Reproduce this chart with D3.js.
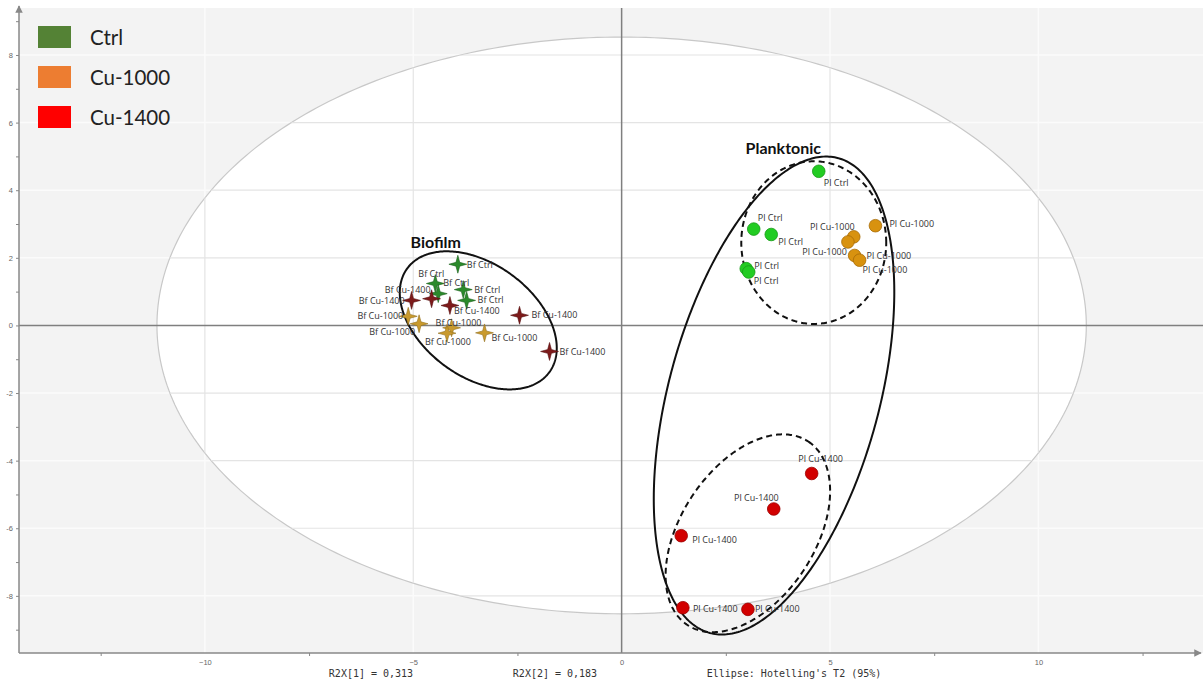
<!DOCTYPE html>
<html>
<head>
<meta charset="utf-8">
<script src="https://cdn.jsdelivr.net/npm/d3@7"></script>
<style>
  body { margin: 0; background: #fff; }
  svg { display: block; }
  .axis path, .axis line { stroke: #888; }
  .axis text { fill: #666; font-family: "Liberation Sans", sans-serif; font-size: 7.5px; }
  .plab { font-family: "Open Sans", sans-serif; font-size: 9px; fill: #333; }
</style>
</head>
<body>
<svg width="1203" height="684"></svg>
<script>
// groups and legend colours
const groups = ["Ctrl", "Cu-1000", "Cu-1400"];
const legendColors = ["#548235", "#ED7D31", "#FF0000"];

// score values, [t1, t2]
const bfCtrl = [[-3.93, 1.81], [-4.47, 1.24], [-4.40, 0.94], [-3.80, 1.06], [-3.72, 0.74]];
const bfCu1000 = [[-5.12, 0.27], [-4.86, 0.05], [-4.08, -0.07], [-4.19, -0.23], [-3.29, -0.22]];
const bfCu1400 = [[-5.04, 0.74], [-4.56, 0.79], [-4.12, 0.59], [-2.45, 0.30], [-1.73, -0.77]];
const plCtrl = [[4.73, 4.56], [3.17, 2.85], [3.59, 2.69], [2.99, 1.68], [3.05, 1.58]];
const plCu1000 = [[6.09, 2.95], [5.57, 2.62], [5.43, 2.47], [5.59, 2.07], [5.71, 1.93]];
const plCu1400 = [[4.56, -4.38], [3.65, -5.43], [1.43, -6.22], [1.47, -8.35], [3.03, -8.40]];

// where each point label sits relative to its mark: [dx, dy, anchor]
const bfCtrlLab = [[9, 4, "start"], [9, -7, "end"], [5, -8, "start"], [11, 3, "start"], [11, 3, "start"]];
const bfCu1000Lab = [[-5, 3, "end"], [-4, 11, "end"], [-16, -2, "start"], [-22, 12, "start"], [7, 8, "start"]];
const bfCu1400Lab = [[-7, 4, "end"], [-1, -6, "end"], [4, 9, "start"], [12, 3, "start"], [10, 4, "start"]];
const plCtrlLab = [[5, 15, "start"], [4, -8, "start"], [7, 11, "start"], [8, 0, "start"], [5, 12, "start"]];
const plCu1000Lab = [[14, 1, "start"], [1, -7, "end"], [-1, 13, "end"], [12, 4, "start"], [3, 13, "start"]];
const plCu1400Lab = [[9, -11, "middle"], [5, -8, "end"], [11, 7, "start"], [10, 4, "start"], [7, 3, "start"]];

// ellipses in score units: centre, two conjugate half-axis vectors
const hotelling = { c: [0, 0], a: [11.15, 0], b: [0, 8.53], dash: null };
const biofilmEll = { c: [-3.44, 0.15], a: [1.707, -1.532], b: [-0.796, -1.351], dash: null };
const planktonicEll = { c: [3.657, -2.074], a: [1.542, 7.022], b: [2.439, -0.818], dash: null };
const plUpperEll = { c: [4.61, 2.45], a: [1.739, 0], b: [0, 2.406], dash: "6,4" };
const plLowerEll = { c: [3.029, -6.148], a: [1.449, 2.714], b: [1.340, -1.093], dash: "6,4" };

const clusterNames = ["Biofilm", "Planktonic"];
const clusterNamePos = [[-4.46, 2.47], [3.88, 5.26]];

const xMajor = [-10, -5, 0, 5, 10];
const xMinor = [-12.5, -7.5, -2.5, 2.5, 7.5, 12.5];
const yTicks = d3.range(-9, 10);
const yGrid = [-8, -6, -4, -2, 2, 4, 6, 8];

const svg = d3.select("svg");
const pLeft = 19, pRight = 1203, pTop = 8, pBottom = 653;

const x = d3.scaleLinear().domain([-14.46, 13.95]).range([pLeft, pRight]);
const y = d3.scaleLinear().domain([-9.69, 9.39]).range([pBottom, pTop]);

// background
svg.append("rect").attr("x", pLeft).attr("y", pTop)
  .attr("width", pRight - pLeft).attr("height", pBottom - pTop).attr("fill", "#f3f3f3");

// grid on the grey part
const grid = g => {
  g.selectAll(".gh").data(yGrid).enter().append("line")
    .attr("x1", pLeft).attr("x2", pRight).attr("y1", d => y(d)).attr("y2", d => y(d));
  g.selectAll(".gv").data(xMajor.filter(d => d !== 0)).enter().append("line")
    .attr("y1", pTop).attr("y2", pBottom).attr("x1", d => x(d)).attr("x2", d => x(d));
};
svg.append("g").attr("stroke", "#fbfbfb").attr("stroke-width", 1.5).call(grid);

function ellPoints(e) {
  return d3.range(0, 361).map(i => {
    const t = i / 360 * 2 * Math.PI;
    return [e.c[0] + e.a[0] * Math.cos(t) + e.b[0] * Math.sin(t),
            e.c[1] + e.a[1] * Math.cos(t) + e.b[1] * Math.sin(t)];
  });
}
const ellLine = d3.line().x(d => x(d[0])).y(d => y(d[1])).curve(d3.curveLinearClosed);

// Hotelling T2 ellipse
svg.append("path").attr("d", ellLine(ellPoints(hotelling)))
  .attr("fill", "#fff").attr("stroke", "#c8c8c8").attr("stroke-width", 1.2);
svg.append("clipPath").attr("id", "hclip").append("path").attr("d", ellLine(ellPoints(hotelling)));
svg.append("g").attr("clip-path", "url(#hclip)").attr("stroke", "#e4e4e4").attr("stroke-width", 1.2).call(grid);

// zero lines
svg.append("line").attr("x1", pLeft).attr("x2", pRight).attr("y1", y(0)).attr("y2", y(0))
  .attr("stroke", "#7f7f7f").attr("stroke-width", 1.5);
svg.append("line").attr("x1", x(0)).attr("x2", x(0)).attr("y1", pTop).attr("y2", pBottom)
  .attr("stroke", "#7f7f7f").attr("stroke-width", 1.5);

// axes
svg.append("defs").append("marker").attr("id", "arr")
  .attr("viewBox", "0 0 10 10").attr("refX", 9).attr("refY", 5)
  .attr("markerWidth", 5).attr("markerHeight", 5).attr("orient", "auto")
  .append("path").attr("d", "M0,0L10,5L0,10Z").attr("fill", "#888");

svg.append("g").attr("class", "axis").attr("transform", "translate(0," + pBottom + ")")
  .call(d3.axisBottom(x).tickValues(xMinor).tickSize(3).tickFormat(""))
  .call(g => g.select(".domain").remove());
svg.append("g").attr("class", "axis").attr("transform", "translate(0," + pBottom + ")")
  .call(d3.axisBottom(x).tickValues(xMajor).tickSize(0).tickPadding(7))
  .call(g => g.select(".domain").remove());
svg.append("g").attr("class", "axis").attr("transform", "translate(" + pLeft + ",0)")
  .call(d3.axisLeft(y).tickValues(yTicks).tickSize(3).tickPadding(3)
    .tickFormat(d => d % 2 === 0 ? d : ""))
  .call(g => g.select(".domain").remove());

svg.append("line").attr("x1", pLeft).attr("x2", 1201).attr("y1", pBottom).attr("y2", pBottom)
  .attr("stroke", "#888").attr("stroke-width", 1.5).attr("marker-end", "url(#arr)");
svg.append("line").attr("x1", pLeft).attr("x2", pLeft).attr("y1", pBottom).attr("y2", 6)
  .attr("stroke", "#888").attr("stroke-width", 1.5).attr("marker-end", "url(#arr)");

// cluster ellipses
[biofilmEll, planktonicEll, plUpperEll, plLowerEll].forEach(e => {
  svg.append("path").attr("d", ellLine(ellPoints(e)))
    .attr("fill", "none").attr("stroke", "#111").attr("stroke-width", 2)
    .attr("stroke-dasharray", e.dash);
});

// four-pointed star for biofilm samples
const star4 = {
  draw(ctx, size) {
    const r = Math.sqrt(size), ri = r * 0.3;
    for (let i = 0; i < 8; i++) {
      const a = i * Math.PI / 4 - Math.PI / 2, rr = i % 2 ? ri : r;
      if (i === 0) ctx.moveTo(rr * Math.cos(a), rr * Math.sin(a));
      else ctx.lineTo(rr * Math.cos(a), rr * Math.sin(a));
    }
    ctx.closePath();
  }
};

const series = [
  { pts: bfCtrl, lab: bfCtrlLab, text: "Bf Ctrl", shape: "star", fill: "#2b8a2b", stroke: "#1b611b" },
  { pts: bfCu1000, lab: bfCu1000Lab, text: "Bf Cu-1000", shape: "star", fill: "#c99a2e", stroke: "#93701f" },
  { pts: bfCu1400, lab: bfCu1400Lab, text: "Bf Cu-1400", shape: "star", fill: "#7d1a1a", stroke: "#561010" },
  { pts: plCtrl, lab: plCtrlLab, text: "Pl Ctrl", shape: "circle", fill: "#22cc22", stroke: "#179a17" },
  { pts: plCu1000, lab: plCu1000Lab, text: "Pl Cu-1000", shape: "circle", fill: "#d8920f", stroke: "#a86c08" },
  { pts: plCu1400, lab: plCu1400Lab, text: "Pl Cu-1400", shape: "circle", fill: "#d20000", stroke: "#9a0000" }
];

series.forEach(s => {
  const g = svg.append("g");
  if (s.shape === "star") {
    g.selectAll("path").data(s.pts).enter().append("path")
      .attr("transform", d => "translate(" + x(d[0]) + "," + y(d[1]) + ")")
      .attr("d", d3.symbol().type(star4).size(80))
      .attr("fill", s.fill).attr("stroke", s.stroke).attr("stroke-width", 0.6);
  } else {
    g.selectAll("circle").data(s.pts).enter().append("circle")
      .attr("cx", d => x(d[0])).attr("cy", d => y(d[1])).attr("r", 6.3)
      .attr("fill", s.fill).attr("stroke", s.stroke).attr("stroke-width", 0.8);
  }
  g.selectAll("text").data(s.pts).enter().append("text")
    .attr("class", "plab")
    .attr("x", (d, i) => x(d[0]) + s.lab[i][0])
    .attr("y", (d, i) => y(d[1]) + s.lab[i][1])
    .attr("text-anchor", (d, i) => s.lab[i][2])
    .text(s.text);
});

// cluster names
svg.selectAll(".cname").data(clusterNames).enter().append("text")
  .attr("x", (d, i) => x(clusterNamePos[i][0])).attr("y", (d, i) => y(clusterNamePos[i][1]) + 6)
  .attr("text-anchor", "middle")
  .attr("font-family", "Lato, sans-serif").attr("font-weight", "bold").attr("font-size", 16)
  .attr("fill", "#111").text(d => d);

// legend
const leg = svg.append("g").selectAll("g").data(groups).enter().append("g")
  .attr("transform", (d, i) => "translate(38," + (26 + i * 40) + ")");
leg.append("rect").attr("width", 33).attr("height", 22)
  .attr("fill", (d, i) => legendColors[i]);
leg.append("text").attr("x", 52).attr("y", 19)
  .attr("font-family", "Lato, sans-serif").attr("font-size", 20.5).attr("fill", "#222")
  .text(d => d);

// footer
const footer = [["R2X[1] = 0,313", 371], ["R2X[2] = 0,183", 555], ["Ellipse: Hotelling's T2 (95%)", 794]];
svg.selectAll(".foot").data(footer).enter().append("text")
  .attr("x", d => d[1]).attr("y", 677).attr("text-anchor", "middle")
  .attr("font-family", "DejaVu Sans Mono, monospace").attr("font-size", 10)
  .attr("fill", "#333").text(d => d[0]);
</script>
</body>
</html>
